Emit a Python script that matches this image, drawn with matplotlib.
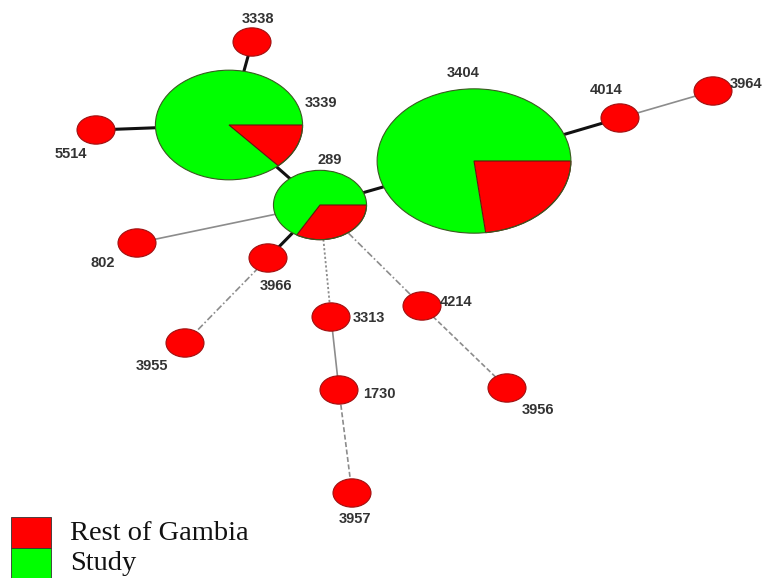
import matplotlib
matplotlib.use("Agg")
import matplotlib.pyplot as plt
from matplotlib.patches import Wedge, Ellipse, Rectangle
from matplotlib.transforms import Affine2D
import numpy as np

# ---- data ----
nodes = ["3338", "3339", "5514", "289", "3404", "4014", "3964", "802",
         "3966", "3955", "3313", "1730", "3957", "4214", "3956"]
rest_of_gambia = [1, 2, 1, 2, 6, 1, 1, 1, 1, 1, 1, 1, 1, 1, 1]
study = [0, 13, 0, 4, 20, 0, 0, 0, 0, 0, 0, 0, 0, 0, 0]
edges_from = ["3338", "5514", "3339", "289", "3404", "4014", "289", "289",
              "3966", "289", "3313", "1730", "289", "4214"]
edges_to = ["3339", "3339", "289", "3404", "4014", "3964", "802", "3966",
            "3955", "3313", "1730", "3957", "4214", "3956"]
edge_kind = ["strong", "strong", "strong", "strong", "strong", "weak", "weak", "strong",
             "dashdot", "dotted", "weak", "dashed", "dashdot", "dashed"]
legend_labels = ["Rest of Gambia", "Study"]

# ---- layout (pixel coordinates of the drawing) ----
pos = {"3338": (252, 42), "3339": (229, 125), "5514": (96, 130), "289": (320, 205),
       "3404": (474, 161), "4014": (620, 118), "3964": (713, 91), "802": (137, 243),
       "3966": (268, 258), "3955": (185, 343), "3313": (331, 317), "1730": (339, 390),
       "3957": (352, 493), "4214": (422, 306), "3956": (507, 388)}
label_pos = {"3338": (258, 19), "3339": (321, 103), "5514": (71, 154), "289": (330, 160),
             "3404": (463, 73), "4014": (606, 90), "3964": (730, 84), "802": (103, 263),
             "3966": (276, 286), "3955": (152, 366), "3313": (369, 318), "1730": (379, 394),
             "3957": (355, 519), "4214": (456, 302), "3956": (538, 410)}
label_ha = {"3964": "left"}

RED = "#ff0000"
GREEN = "#00ff00"
edge_styles = {
    "strong": dict(color="#111111", lw=2.2, ls="-"),
    "weak": dict(color="#8c8c8c", lw=1.2, ls="-"),
    "dashed": dict(color="#8c8c8c", lw=1.2, ls=(0, (3, 1.5))),
    "dashdot": dict(color="#8c8c8c", lw=1.2, ls=(0, (4, 1.5, 1, 1.5))),
    "dotted": dict(color="#8c8c8c", lw=1.3, ls=(0, (1.2, 1.2))),
}

W, H = 764, 578
fig = plt.figure(figsize=(W / 100, H / 100), dpi=100)
ax = fig.add_axes([0, 0, 1, 1])
ax.set_xlim(0, W)
ax.set_ylim(H, 0)
ax.axis("off")

# edges
for a, b, k in zip(edges_from, edges_to, edge_kind):
    (x1, y1), (x2, y2) = pos[a], pos[b]
    ax.plot([x1, x2], [y1, y2], zorder=1, solid_capstyle="butt", **edge_styles[k])

# nodes (area proportional to number of isolates)
base_r = 19
aspect = 0.745
for name, r, s in zip(nodes, rest_of_gambia, study):
    total = r + s
    rx = base_r * np.sqrt(total)
    ry = rx * aspect
    cx, cy = pos[name]
    tr = Affine2D().scale(rx, ry).translate(cx, cy) + ax.transData
    frac = r / total
    if s == 0:
        ax.add_patch(Ellipse((cx, cy), 2 * rx, 2 * ry, facecolor=RED,
                             edgecolor="#a01010", lw=0.8, zorder=3))
    else:
        ax.add_patch(Wedge((0, 0), 1, 0, 360 * frac, facecolor=RED, edgecolor="none",
                           transform=tr, zorder=3))
        ax.add_patch(Wedge((0, 0), 1, 360 * frac, 360, facecolor=GREEN, edgecolor="none",
                           transform=tr, zorder=3))
        ax.add_patch(Wedge((0, 0), 1, 0, 360 * frac, facecolor="none", edgecolor="#6a1010",
                           lw=0.8, transform=tr, zorder=4))
        ax.add_patch(Ellipse((cx, cy), 2 * rx, 2 * ry, facecolor="none",
                             edgecolor="#3a5a20", lw=0.8, zorder=4))
    lx, ly = label_pos[name]
    ax.text(lx, ly, name, ha=label_ha.get(name, "center"), va="center", fontsize=10.5,
            fontweight="bold", color="#333333", family="Liberation Sans", zorder=5)

# legend
for i, (lab, col) in enumerate(zip(legend_labels, [RED, GREEN])):
    y0 = 517 + i * 31
    ax.add_patch(Rectangle((11, y0), 40, 31, facecolor=col, edgecolor="#333333",
                           lw=0.6, zorder=3, clip_on=False))
    ax.text(70, y0 + 16, lab, ha="left", va="center", fontsize=20.5,
            family="Liberation Serif", color="#111111")

fig.savefig("out.png", dpi=100)
